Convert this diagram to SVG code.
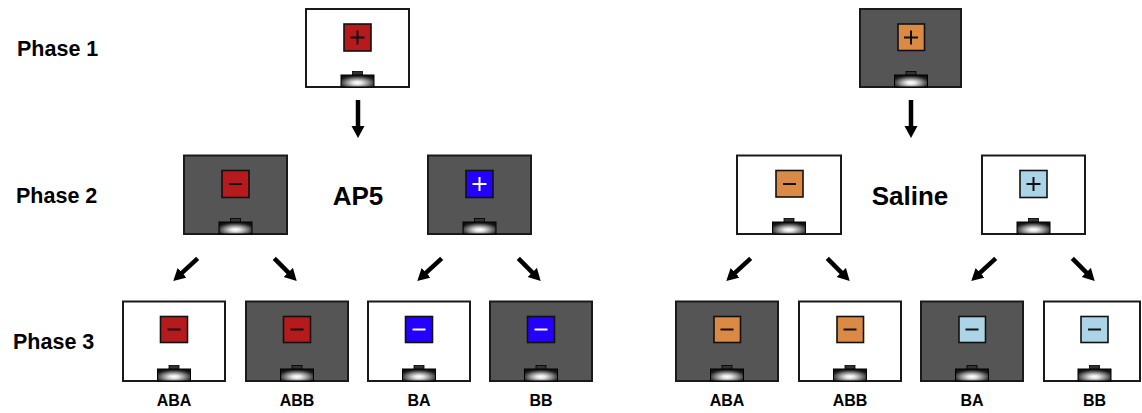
<svg xmlns="http://www.w3.org/2000/svg" xmlns:xlink="http://www.w3.org/1999/xlink" width="1142" height="413" viewBox="0 0 1142 413">
  <style>
    .lbl { font-family: "Liberation Sans", Arial, sans-serif; font-weight: bold; fill: #000; }
    .phase { font-size: 21.5px; }
    .drug { font-size: 26px; text-anchor: middle; }
    .cond { font-size: 16px; text-anchor: middle; }
    .box-w { fill: #ffffff; stroke: #1a1a1a; stroke-width: 2; }
    .box-d { fill: #555555; stroke: #1a1a1a; stroke-width: 2; }
    .cue { stroke: #111; stroke-width: 1.6; }
    .red { fill: #b51a1c; }
    .blue { fill: #2400ff; }
    .orange { fill: #da8a44; }
    .lblue { fill: #abd4e6; }
    .sign-k { stroke: #111; stroke-width: 2; fill: none; }
    .sign-w { stroke: #ffffff; stroke-width: 2; fill: none; }
    .arrow { stroke: #000; stroke-width: 4.5; fill: none; marker-end: url(#head); }
  </style>
  <defs>
    <radialGradient id="cupShade" cx="50%" cy="65%" r="62%">
      <stop offset="0" stop-color="#ffffff"/>
      <stop offset="0.22" stop-color="#e6e6e6"/>
      <stop offset="0.55" stop-color="#8a8a8a"/>
      <stop offset="0.85" stop-color="#2e2e2e"/>
      <stop offset="1" stop-color="#111111"/>
    </radialGradient>
    <!-- food cup: centred on x=0, resting on y=0 -->
    <g id="cup">
      <rect x="-5" y="-15.5" width="10" height="4" fill="#333" stroke="#000" stroke-width="0.8"/>
      <rect x="-16.5" y="-12" width="33" height="12" fill="url(#cupShade)" stroke="#000" stroke-width="1"/>
    </g>
    <marker id="head" markerUnits="userSpaceOnUse" markerWidth="14" markerHeight="14" refX="2" refY="7" orient="auto">
      <path d="M0,0.5 L12,7 L0,13.5 z" fill="#000"/>
    </marker>
  </defs>

  <!-- row labels -->
  <text class="lbl phase" x="17" y="56">Phase 1</text>
  <text class="lbl phase" x="16" y="203">Phase 2</text>
  <text class="lbl phase" x="13" y="349">Phase 3</text>
  <text class="lbl drug" x="358" y="205">AP5</text>
  <text class="lbl drug" x="910" y="205">Saline</text>

  <!-- AP5 group -->
  <g id="ap5-phase1">
    <rect class="box-w" x="306" y="9" width="103" height="78"/>
    <rect class="cue red" x="344" y="24" width="27" height="27"/>
    <path class="sign-k" d="M350.5,37.5 h14 M357.5,30.5 v14"/>
    <use xlink:href="#cup" x="357.5" y="87"/>
  </g>
  <g id="ap5-phase2-a">
    <rect class="box-d" x="184" y="155.5" width="103" height="78.5"/>
    <rect class="cue red" x="222" y="170.5" width="27" height="27"/>
    <path class="sign-k" d="M229,184 h13"/>
    <use xlink:href="#cup" x="235.5" y="234"/>
  </g>
  <g id="ap5-phase2-b">
    <rect class="box-d" x="428" y="155.5" width="103" height="78.5"/>
    <rect class="cue blue" x="466" y="170.5" width="27" height="27"/>
    <path class="sign-w" d="M472.5,184 h14 M479.5,177 v14"/>
    <use xlink:href="#cup" x="479.5" y="234"/>
  </g>
  <g id="ap5-aba">
    <rect class="box-w" x="123" y="301.5" width="102" height="79.5"/>
    <rect class="cue red" x="160.5" y="316.5" width="27" height="26"/>
    <path class="sign-k" d="M167.5,329.5 h13"/>
    <use xlink:href="#cup" x="174" y="381"/>
    <text class="lbl cond" x="174" y="406">ABA</text>
  </g>
  <g id="ap5-abb">
    <rect class="box-d" x="246" y="301.5" width="102" height="79.5"/>
    <rect class="cue red" x="283.5" y="316.5" width="27" height="26"/>
    <path class="sign-k" d="M290.5,329.5 h13"/>
    <use xlink:href="#cup" x="297" y="381"/>
    <text class="lbl cond" x="297" y="406">ABB</text>
  </g>
  <g id="ap5-ba">
    <rect class="box-w" x="368" y="301.5" width="102" height="79.5"/>
    <rect class="cue blue" x="405.5" y="316.5" width="27" height="26"/>
    <path class="sign-w" d="M412.5,329.5 h13"/>
    <use xlink:href="#cup" x="419" y="381"/>
    <text class="lbl cond" x="419" y="406">BA</text>
  </g>
  <g id="ap5-bb">
    <rect class="box-d" x="490" y="301.5" width="102" height="79.5"/>
    <rect class="cue blue" x="527.5" y="316.5" width="27" height="26"/>
    <path class="sign-w" d="M534.5,329.5 h13"/>
    <use xlink:href="#cup" x="541" y="381"/>
    <text class="lbl cond" x="541" y="406">BB</text>
  </g>

  <!-- Saline group -->
  <g id="sal-phase1">
    <rect class="box-d" x="860" y="9" width="101" height="78"/>
    <rect class="cue orange" x="898" y="24" width="26.5" height="26.5"/>
    <path class="sign-k" d="M904,37.5 h14 M911,30.5 v14"/>
    <use xlink:href="#cup" x="911" y="87"/>
  </g>
  <g id="sal-phase2-a">
    <rect class="box-w" x="737" y="155.5" width="104" height="78.5"/>
    <rect class="cue orange" x="776" y="170.5" width="27" height="26.5"/>
    <path class="sign-k" d="M783,184 h13"/>
    <use xlink:href="#cup" x="789" y="234"/>
  </g>
  <g id="sal-phase2-b">
    <rect class="box-w" x="982" y="155.5" width="103" height="78.5"/>
    <rect class="cue lblue" x="1020" y="170.5" width="27" height="27"/>
    <path class="sign-k" d="M1026.5,184 h14 M1033.5,177 v14"/>
    <use xlink:href="#cup" x="1033.5" y="234"/>
  </g>
  <g id="sal-aba">
    <rect class="box-d" x="676" y="301.5" width="102" height="79.5"/>
    <rect class="cue orange" x="714" y="316.5" width="26.5" height="26"/>
    <path class="sign-k" d="M720.5,329.5 h13"/>
    <use xlink:href="#cup" x="727" y="381"/>
    <text class="lbl cond" x="727" y="406">ABA</text>
  </g>
  <g id="sal-abb">
    <rect class="box-w" x="799" y="301.5" width="102" height="79.5"/>
    <rect class="cue orange" x="837" y="316.5" width="26.5" height="26"/>
    <path class="sign-k" d="M843.5,329.5 h13"/>
    <use xlink:href="#cup" x="850" y="381"/>
    <text class="lbl cond" x="850" y="406">ABB</text>
  </g>
  <g id="sal-ba">
    <rect class="box-d" x="921" y="301.5" width="102" height="79.5"/>
    <rect class="cue lblue" x="959" y="316.5" width="26.5" height="26"/>
    <path class="sign-k" d="M965.5,329.5 h13"/>
    <use xlink:href="#cup" x="972" y="381"/>
    <text class="lbl cond" x="972" y="406">BA</text>
  </g>
  <g id="sal-bb">
    <rect class="box-w" x="1044" y="301.5" width="96" height="79.5"/>
    <rect class="cue lblue" x="1081" y="316.5" width="27" height="26"/>
    <path class="sign-k" d="M1088,329.5 h13"/>
    <use xlink:href="#cup" x="1094.5" y="381"/>
    <text class="lbl cond" x="1094.5" y="406">BB</text>
  </g>

  <!-- connectors -->
  <g id="connectors">
    <path class="arrow" d="M358,100 L358,128"/>
    <path class="arrow" d="M911,100 L911,128"/>
    <path class="arrow" d="M197.7,258.3 L180.6,274.2"/>
    <path class="arrow" d="M274.3,258.3 L289.7,273.9"/>
    <path class="arrow" d="M441.7,258.3 L424.6,274.2"/>
    <path class="arrow" d="M518.3,258.3 L533.7,273.9"/>
    <path class="arrow" d="M750.7,258.3 L733.6,274.2"/>
    <path class="arrow" d="M827.3,258.3 L842.7,273.9"/>
    <path class="arrow" d="M995.7,258.3 L978.6,274.2"/>
    <path class="arrow" d="M1072.3,258.3 L1087.7,273.9"/>
  </g>
</svg>
